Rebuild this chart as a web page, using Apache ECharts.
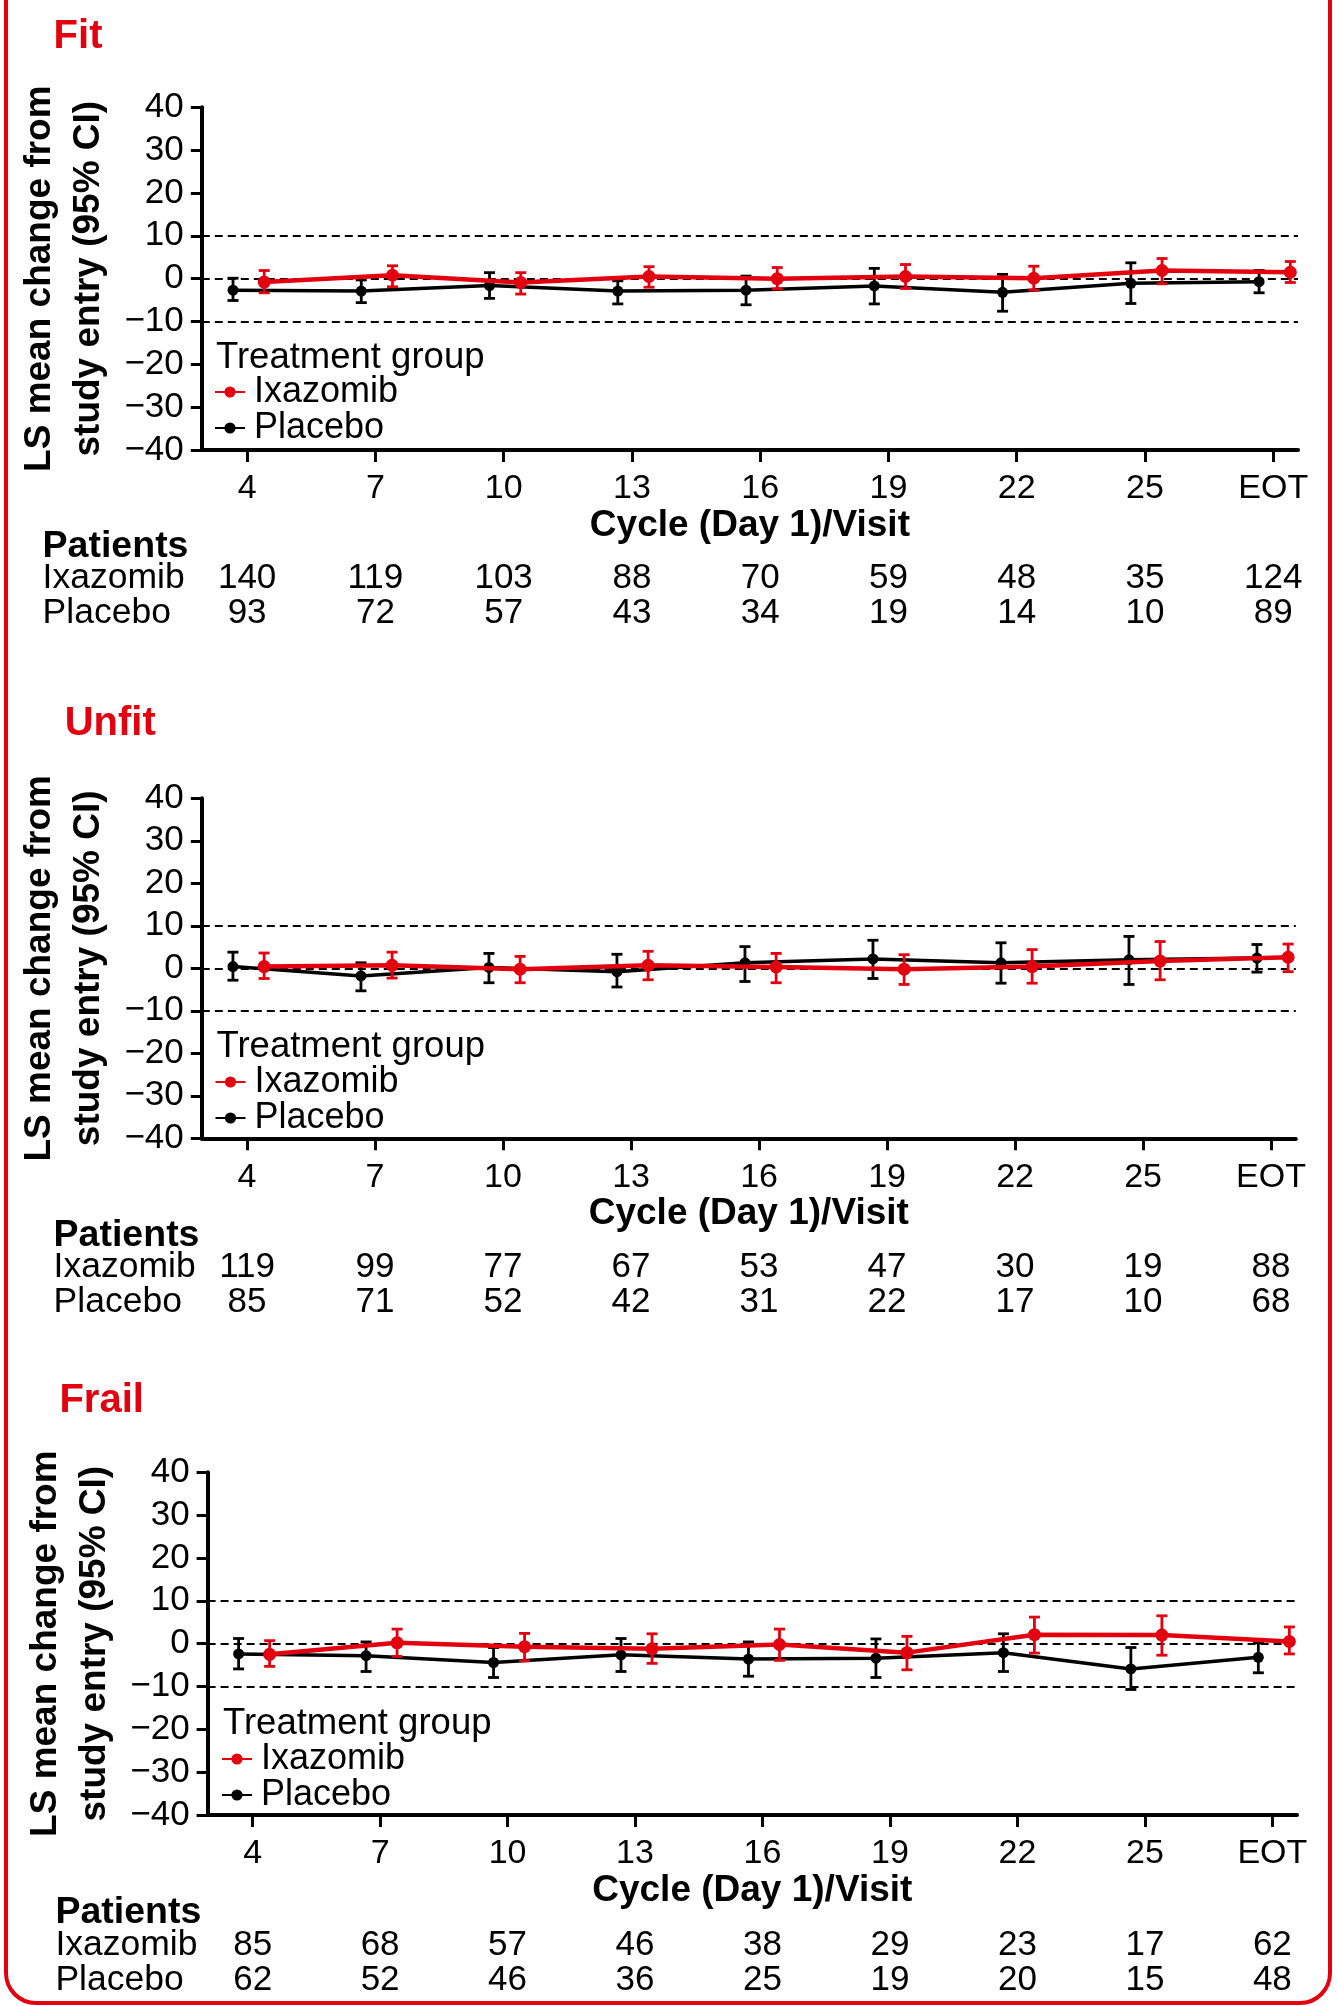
<!DOCTYPE html>
<html><head><meta charset="utf-8">
<script src="https://cdn.jsdelivr.net/npm/echarts@6/dist/echarts.min.js"></script>
<style>html,body{margin:0;padding:0;background:#fff}#c{width:1337px;height:2006px}</style>
</head><body><div id="c"></div>
<script>
// ---------- data ----------
const visits = ['4','7','10','13','16','19','22','25','EOT'];
const yTicks = [-40,-30,-20,-10,0,10,20,30,40];
const refLines = [10, 0, -10];
const panelTitles = ['Fit','Unfit','Frail'];
const seriesNames = ['Ixazomib','Placebo'];

// Fit
const fitIxaMean = [-0.8, 0.8, -0.9, 0.5, 0.0, 0.5, 0.1, 1.9, 1.5];
const fitIxaLow  = [-3.3, -1.9, -3.6, -2.0, -2.4, -2.3, -2.7, -1.2, -0.9];
const fitIxaHigh = [1.9, 3.0, 1.4, 2.8, 2.6, 3.3, 2.9, 4.7, 4.0];
const fitPlaMean = [-2.7, -2.9, -1.6, -2.9, -2.7, -1.7, -3.2, -1.1, -0.7];
const fitPlaLow  = [-5.1, -5.6, -4.6, -5.9, -6.1, -5.9, -7.6, -5.8, -3.3];
const fitPlaHigh = [0.1, -0.3, 1.4, -0.5, 0.6, 2.4, 1.0, 3.7, 1.9];
const fitIxaN = [140,119,103,88,70,59,48,35,124];
const fitPlaN = [93,72,57,43,34,19,14,10,89];

// Unfit
const unfitIxaMean = [0.4, 0.7, -0.2, 0.7, 0.3, -0.2, 0.4, 1.7, 2.6];
const unfitIxaLow  = [-2.4, -2.3, -3.4, -2.7, -3.4, -3.8, -3.5, -2.7, -0.8];
const unfitIxaHigh = [3.6, 3.8, 2.8, 4.0, 3.5, 3.2, 4.4, 6.3, 5.7];
const unfitPlaMean = [0.4, -1.8, 0.2, -0.8, 1.3, 2.2, 1.3, 2.0, 2.4];
const unfitPlaLow  = [-2.8, -5.3, -3.4, -4.4, -3.1, -2.4, -3.5, -3.8, -0.9];
const unfitPlaHigh = [3.8, 1.3, 3.5, 3.3, 5.1, 6.6, 6.0, 7.5, 5.6];
const unfitIxaN = [119,99,77,67,53,47,30,19,88];
const unfitPlaN = [85,71,52,42,31,22,17,10,68];

// Frail
const frailIxaMean = [-2.5, 0.2, -0.7, -1.2, -0.2, -2.1, 2.1, 2.0, 0.5];
const frailIxaLow  = [-5.3, -3.0, -4.0, -4.6, -3.9, -6.1, -2.2, -2.7, -2.4];
const frailIxaHigh = [0.7, 3.4, 2.4, 2.3, 3.4, 1.7, 6.2, 6.5, 3.9];
const frailPlaMean = [-2.4, -2.8, -4.4, -2.6, -3.6, -3.4, -2.1, -5.9, -3.2];
const frailPlaLow  = [-5.9, -6.5, -7.9, -6.5, -7.6, -7.9, -6.5, -10.7, -6.8];
const frailPlaHigh = [1.2, 0.4, -0.9, 1.2, 0.4, 1.1, 2.3, -0.9, 0.2];
const frailIxaN = [85,68,57,46,38,29,23,17,62];
const frailPlaN = [62,52,46,36,25,19,20,15,48];

// ---------- assembly ----------
const panelData = [
  {ixa:[fitIxaMean,fitIxaLow,fitIxaHigh], pla:[fitPlaMean,fitPlaLow,fitPlaHigh], n:[fitIxaN,fitPlaN]},
  {ixa:[unfitIxaMean,unfitIxaLow,unfitIxaHigh], pla:[unfitPlaMean,unfitPlaLow,unfitPlaHigh], n:[unfitIxaN,unfitPlaN]},
  {ixa:[frailIxaMean,frailIxaLow,frailIxaHigh], pla:[frailPlaMean,frailPlaLow,frailPlaHigh], n:[frailIxaN,frailPlaN]}
];

const RED = '#e3000f', BLACK = '#000000';
const FONT = '"Liberation Sans", Arial, Helvetica, sans-serif';
const visitX = visits.map((v,i) => 4 + 3*i);   // axis position of each visit
const IXA_OFF = 0.4, PLA_OFF = -0.33;

const layout = [
  {tx:53.6, ty:36.5, grid:{left:201.8, top:107.3, width:1096.2, height:342.7}, legX:214, legTG:358, legTop:374, tabX:42.6, rowY:[97,128,163]},
  {tx:64.7, ty:723.5, grid:{left:201.8, top:798.3, width:1094, height:340}, legX:214.5, legTG:1047, legTop:1064, tabX:53.6, rowY:[97,129,164]},
  {tx:59.4, ty:1400.5, grid:{left:207.6, top:1472.3, width:1089.4, height:342.7}, legX:221, legTG:1724, legTop:1741, tabX:55.4, rowY:[97.5,130.5,165.5]}
];

const grids = [], xAxes = [], yAxes = [], series = [], legends = [], graphics = [];

function errSeries(idx, low, high, off, color, lw, z){
  return {
    type:'custom', xAxisIndex:idx, yAxisIndex:idx, z:z, silent:true, clip:false,
    data: visits.map((v,i) => [visitX[i]+off, low[i], high[i]]),
    encode:{x:0, y:[1,2]},
    renderItem:(params, api) => {
      const x = api.value(0);
      const lo = api.coord([x, api.value(1)]);
      const hi = api.coord([x, api.value(2)]);
      const hw = 5.5;
      const st = {stroke:color, lineWidth:lw};
      return {type:'group', children:[
        {type:'line', shape:{x1:lo[0],y1:lo[1],x2:hi[0],y2:hi[1]}, style:st},
        {type:'line', shape:{x1:lo[0]-hw,y1:lo[1],x2:lo[0]+hw,y2:lo[1]}, style:st},
        {type:'line', shape:{x1:hi[0]-hw,y1:hi[1],x2:hi[0]+hw,y2:hi[1]}, style:st}
      ]};
    }
  };
}

panelData.forEach((pd, k) => {
  const L = layout[k];
  grids.push(Object.assign({containLabel:false}, L.grid));
  xAxes.push({
    gridIndex:k, type:'value', min:2.94, max:28.58,
    name:'Cycle (Day 1)/Visit', nameLocation:'middle', nameGap:56,
    nameTextStyle:{fontFamily:FONT, fontSize:37, fontWeight:'bold', color:BLACK},
    axisLine:{show:true, onZero:false, lineStyle:{color:BLACK, width:4}},
    axisTick:{show:true, customValues:visitX, length:12, lineStyle:{color:BLACK, width:3}},
    axisLabel:{show:true, customValues:visitX, formatter:(v) => visits[visitX.indexOf(v)],
      margin:22, fontFamily:FONT, fontSize:34, color:BLACK},
    splitLine:{show:false}
  });
  yAxes.push({
    gridIndex:k, type:'value', min:-40, max:40, interval:10,
    name:'LS mean change from\nstudy entry (95% CI)', nameLocation:'middle', nameGap:67.7,
    nameTextStyle:{fontFamily:FONT, fontSize:37, fontWeight:'bold', color:BLACK, lineHeight:49},
    axisLine:{show:true, onZero:false, lineStyle:{color:BLACK, width:4}},
    axisTick:{show:true, length:11, lineStyle:{color:BLACK, width:3}},
    axisLabel:{margin:18, fontFamily:FONT, fontSize:35, color:BLACK, padding:[4,0,0,0],
      formatter:(v) => v < 0 ? '\u2212' + Math.abs(v) : String(v)},
    splitLine:{show:false}
  });

  // placebo line (with dashed reference lines)
  series.push({
    type:'line', name:seriesNames[1], xAxisIndex:k, yAxisIndex:k, z:2,
    data: visits.map((v,i) => [visitX[i]+PLA_OFF, pd.pla[0][i]]),
    symbol:'circle', symbolSize:11, showAllSymbol:true,
    lineStyle:{color:BLACK, width:3.5}, itemStyle:{color:BLACK},
    markLine:{silent:true, symbol:'none', label:{show:false}, z:1,
      lineStyle:{color:BLACK, width:2, type:[8,5]},
      data: refLines.map(v => ({yAxis:v}))}
  });
  series.push(errSeries(k, pd.pla[1], pd.pla[2], PLA_OFF, BLACK, 2.8, 3));
  series.push({
    type:'line', name:seriesNames[0], xAxisIndex:k, yAxisIndex:k, z:4,
    data: visits.map((v,i) => [visitX[i]+IXA_OFF, pd.ixa[0][i]]),
    symbol:'circle', symbolSize:13, showAllSymbol:true,
    lineStyle:{color:RED, width:4.5}, itemStyle:{color:RED}
  });
  series.push(errSeries(k, pd.ixa[1], pd.ixa[2], IXA_OFF, RED, 2.8, 5));

  // patient numbers table, positioned with the x axis scale
  series.push({
    type:'custom', xAxisIndex:k, yAxisIndex:k, silent:true, clip:false, z:6,
    data: visits.map((v,i) => [visitX[i], pd.n[0][i], pd.n[1][i]]),
    encode:{x:0, y:1},
    renderItem:(params, api) => {
      const p = api.coord([api.value(0), -40]);
      const st = (t, dy) => ({type:'text', x:p[0], y:p[1]+dy,
        style:{text:String(t), fontFamily:FONT, fontSize:35, fill:BLACK, align:'center', verticalAlign:'middle'}});
      return {type:'group', children:[st(api.value(1), L.rowY[1]), st(api.value(2), L.rowY[2])]};
    }
  });

  legends.push({
    orient:'vertical', left:L.legX, top:L.legTop, padding:0, itemWidth:30, itemHeight:14, itemGap:0,
    selectedMode:false, data:seriesNames,
    textStyle:{fontFamily:FONT, fontSize:36, color:BLACK, lineHeight:35, padding:[0,0,0,4]}
  });

  const axisBottom = L.grid.top + L.grid.height;
  const txt = (x, y, text, size, weight, color) => ({type:'text', x:x, y:y, silent:true,
    style:{text:text, fontFamily:FONT, fontSize:size, fontWeight:weight, fill:color, align:'left', verticalAlign:'middle'}});
  graphics.push(txt(L.tx, L.ty, panelTitles[k], 40, 'bold', RED));
  graphics.push(txt(L.legX+2, L.legTG, 'Treatment group', 36.5, 'normal', BLACK));
  graphics.push(txt(L.tabX, axisBottom + L.rowY[0], 'Patients', 37.5, 'bold', BLACK));
  graphics.push(txt(L.tabX, axisBottom + L.rowY[1], seriesNames[0], 35.5, 'normal', BLACK));
  graphics.push(txt(L.tabX, axisBottom + L.rowY[2], seriesNames[1], 35.5, 'normal', BLACK));
});

graphics.push({type:'rect', silent:true, shape:{x:6, y:-60, width:1324, height:2063, r:30},
  style:{fill:'none', stroke:RED, lineWidth:4}});

const chart = echarts.init(document.getElementById('c'), null, {renderer:'canvas'});
chart.setOption({
  animation:false,
  backgroundColor:'#ffffff',
  textStyle:{fontFamily:FONT},
  grid:grids, xAxis:xAxes, yAxis:yAxes, series:series, legend:legends, graphic:graphics
});
</script></body></html>
